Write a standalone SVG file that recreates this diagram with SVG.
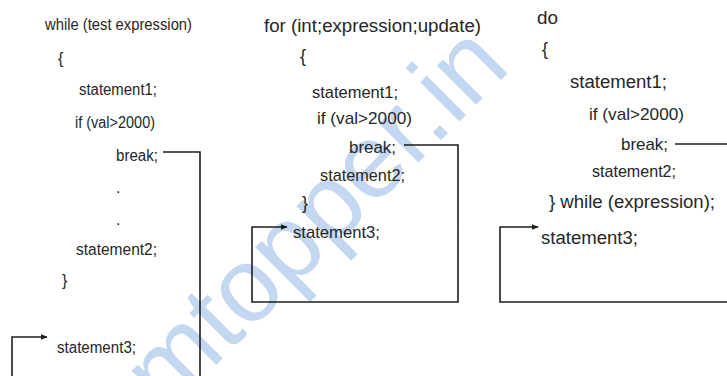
<svg xmlns="http://www.w3.org/2000/svg" width="727" height="376" viewBox="0 0 727 376">
  <style>
    .code { font-family: "Liberation Sans", "DejaVu Sans", sans-serif; fill: #262626; }
    .sm { font-size: 16px; }
    .md { font-size: 17px; }
    .lg { font-size: 18px; }
    .wire { fill: none; stroke: #1e1e1e; stroke-width: 1.6; }
    .mark { font-family: "Liberation Sans", "DejaVu Sans", sans-serif; font-size: 105px; fill: #c3d7f0; }
  </style>
  <defs>
    <marker id="tip" viewBox="0 0 10 10" refX="9" refY="5" markerWidth="7" markerHeight="7" markerUnits="userSpaceOnUse" orient="auto">
      <path d="M0,1 L10,5 L0,9 Z" fill="#1e1e1e"/>
    </marker>
  </defs>
  <rect width="727" height="376" fill="#ffffff"/>

  <!-- watermark -->
  <text class="mark" x="0" y="0" transform="translate(46,535) rotate(-45)">examtopper.in</text>

  <!-- while loop -->
  <g id="while-loop">
    <text class="code sm" x="45" y="30" textLength="147" lengthAdjust="spacingAndGlyphs">while (test expression)</text>
    <text class="code sm" x="58" y="64">{</text>
    <text class="code sm" x="79" y="95" textLength="78" lengthAdjust="spacingAndGlyphs">statement1;</text>
    <text class="code sm" x="75" y="128" textLength="80" lengthAdjust="spacingAndGlyphs">if (val&gt;2000)</text>
    <text class="code sm" x="116" y="161" textLength="42" lengthAdjust="spacingAndGlyphs">break;</text>
    <text class="code sm" x="116" y="193">.</text>
    <text class="code sm" x="116" y="225">.</text>
    <text class="code sm" x="76" y="255" textLength="81" lengthAdjust="spacingAndGlyphs">statement2;</text>
    <text class="code sm" x="62" y="286">}</text>
    <text class="code sm" x="57" y="353" textLength="79" lengthAdjust="spacingAndGlyphs">statement3;</text>
  </g>

  <!-- for loop -->
  <g id="for-loop">
    <text class="code lg" x="264" y="32" textLength="217" lengthAdjust="spacingAndGlyphs">for (int;expression;update)</text>
    <text class="code lg" x="300" y="62">{</text>
    <text class="code md" x="312" y="98" textLength="86" lengthAdjust="spacingAndGlyphs">statement1;</text>
    <text class="code md" x="317" y="124" textLength="95" lengthAdjust="spacingAndGlyphs">if (val&gt;2000)</text>
    <text class="code md" x="349" y="153" textLength="47" lengthAdjust="spacingAndGlyphs">break;</text>
    <text class="code md" x="320" y="181" textLength="85" lengthAdjust="spacingAndGlyphs">statement2;</text>
    <text class="code lg" x="302" y="209">}</text>
    <text class="code md" x="293" y="238" textLength="87" lengthAdjust="spacingAndGlyphs">statement3;</text>
  </g>

  <!-- do-while loop -->
  <g id="do-while-loop">
    <text class="code lg" x="537" y="24" textLength="21" lengthAdjust="spacingAndGlyphs">do</text>
    <text class="code lg" x="542" y="55">{</text>
    <text class="code lg" x="570" y="88" textLength="97" lengthAdjust="spacingAndGlyphs">statement1;</text>
    <text class="code md" x="589" y="120" textLength="95" lengthAdjust="spacingAndGlyphs">if (val&gt;2000)</text>
    <text class="code md" x="621" y="150" textLength="47" lengthAdjust="spacingAndGlyphs">break;</text>
    <text class="code md" x="592" y="177" textLength="84" lengthAdjust="spacingAndGlyphs">statement2;</text>
    <text class="code lg" x="549" y="208" textLength="166" lengthAdjust="spacingAndGlyphs">} while (expression);</text>
    <text class="code lg" x="541" y="244" textLength="97" lengthAdjust="spacingAndGlyphs">statement3;</text>
  </g>

  <!-- break jumps -->
  <g id="connectors">
    <path class="wire" d="M163,152 H200 V376"/>
    <path class="wire" d="M12,376 V337 H47" marker-end="url(#tip)"/>
    <path class="wire" d="M404,145 H458 V302 H252 V227 H287" marker-end="url(#tip)"/>
    <path class="wire" d="M675,144 H727"/>
    <path class="wire" d="M727,302 H500 V227 H538" marker-end="url(#tip)"/>
  </g>
</svg>
